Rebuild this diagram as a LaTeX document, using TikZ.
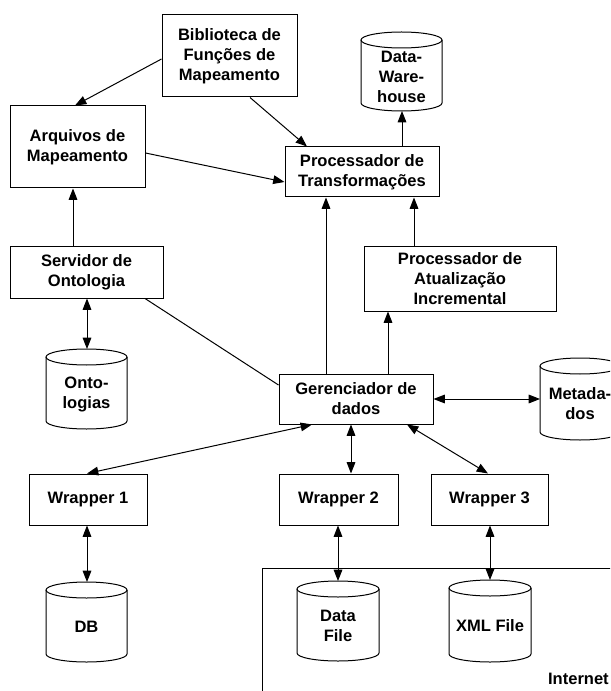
\documentclass[tikz,border=0pt]{standalone}
\usepackage{fontspec}
\setmainfont{Liberation Sans}
\usetikzlibrary{arrows.meta}
\tikzset{
  lbl/.style={font=\fontsize{12.4pt}{15pt}\selectfont\bfseries, align=center, inner sep=0pt},
  box/.style={lbl, draw, line width=0.75pt},
  cylbase/.style={inner sep=0pt, outer sep=0pt},
  con/.style={line width=0.75pt},
  >={Triangle[length=8.5pt,width=6.5pt]}
}
\newcommand\mycyl[6]{%
  \node[cylbase, minimum width=#4*0.75pt, minimum height=#5*0.75pt] (#1) at (#2,#3) {};
  \pgfmathsetlengthmacro\crx{#4*0.375pt}
  \draw[con] ([yshift=-6pt]#1.north) ellipse [x radius=\crx, y radius=6pt];
  \draw[con] ([yshift=-6pt]#1.north west) -- ([yshift=6pt]#1.south west)
     arc[start angle=180, end angle=360, x radius=\crx, y radius=6pt]
     -- ([yshift=-6pt]#1.north east);
  \node[lbl] (#1-t) at (#2,#3+5) {#6};
}
\begin{document}
\begin{tikzpicture}[x=0.75pt,y=-0.75pt]
\useasboundingbox (0,0) rectangle (610,691);
\begin{scope}
\clip (0,0) rectangle (610,691);
% Internet area
\node[draw, line width=0.75pt, anchor=north west, minimum width=400*0.75pt, minimum height=160*0.75pt, inner sep=0pt] (inetbox) at (262,568) {};
\node[lbl, anchor=base east] (inet) at (609,684) {Internet};
% boxes
\node[box, minimum width=135*0.75pt, minimum height=82*0.75pt] (bib) at (229.5,56) {Biblioteca de\\Funções de\\Mapeamento};
\node[box, minimum width=135*0.75pt, minimum height=82*0.75pt] (arq) at (77.5,147) {Arquivos de\\Mapeamento};
\node[box, minimum width=154*0.75pt, minimum height=50*0.75pt] (pt) at (362,172) {Processador de\\Transformações};
\node[box, minimum width=153*0.75pt, minimum height=51*0.75pt] (srv) at (86.5,272.5) {Servidor de\\Ontologia};
\node[box, minimum width=192*0.75pt, minimum height=64*0.75pt] (pai) at (460,279) {Processador de\\Atualização\\Incremental};
\node[box, minimum width=154*0.75pt, minimum height=50*0.75pt] (ger) at (356,399) {Gerenciador de\\dados};
\node[box, minimum width=118*0.75pt, minimum height=51*0.75pt] (w1) at (88,499.5) {Wrapper 1};
\node[box, minimum width=119*0.75pt, minimum height=51*0.75pt] (w2) at (338.5,499.5) {Wrapper 2};
\node[box, minimum width=117*0.75pt, minimum height=51*0.75pt] (w3) at (489.5,499.5) {Wrapper 3};
% cylinders
\mycyl{dw}{401.5}{71.5}{81}{79}{Data-\\Ware-\\house}
\mycyl{onto}{86.5}{389}{81}{80}{Onto-\\logias}
\mycyl{meta}{580}{399}{80}{82}{Metada-\\dos}
\mycyl{db}{86.5}{622}{81}{80}{DB}
\mycyl{df}{338}{621}{82}{80}{Data\\File}
\mycyl{xml}{490}{621}{82}{82}{XML File}
% connectors
\draw[con,->] (bib.west |- 0,59) -- (75,0 |- arq.north);
\draw[con,->] (250,0 |- bib.south) -- (307,0 |- pt.north);
\draw[con,->] (arq.east |- 0,153) -- (pt.west |- 0,182);
\draw[con,->] (402,0 |- pt.north) -- (402,0 |- dw.south);
\draw[con,->] (73,0 |- srv.north) -- (73,0 |- arq.south);
\draw[con,<->] (87,0 |- srv.south) -- (87,0 |- onto.north);
\draw[con] (145,0 |- srv.south) -- (ger.west |- 0,385);
\draw[con,->] (326,0 |- ger.north) -- (326,0 |- pt.south);
\draw[con,->] (388,0 |- ger.north) -- (388,0 |- pai.south);
\draw[con,->] (414,0 |- pai.north) -- (414,0 |- pt.south);
\draw[con,<->] (ger.east) -- (meta.west |- ger.east);
\draw[con,<->] (87,0 |- w1.north) -- (312,0 |- ger.south);
\draw[con,<->] (351,0 |- ger.south) -- (351,0 |- w2.north);
\draw[con,<->] (407,0 |- ger.south) -- (488,0 |- w3.north);
\draw[con,<->] (87,0 |- w1.south) -- (87,0 |- db.north);
\draw[con,<->] (338,0 |- w2.south) -- (338,0 |- df.north);
\draw[con,<->] (490,0 |- w3.south) -- (490,0 |- xml.north);
\end{scope}
\end{tikzpicture}
\end{document}
